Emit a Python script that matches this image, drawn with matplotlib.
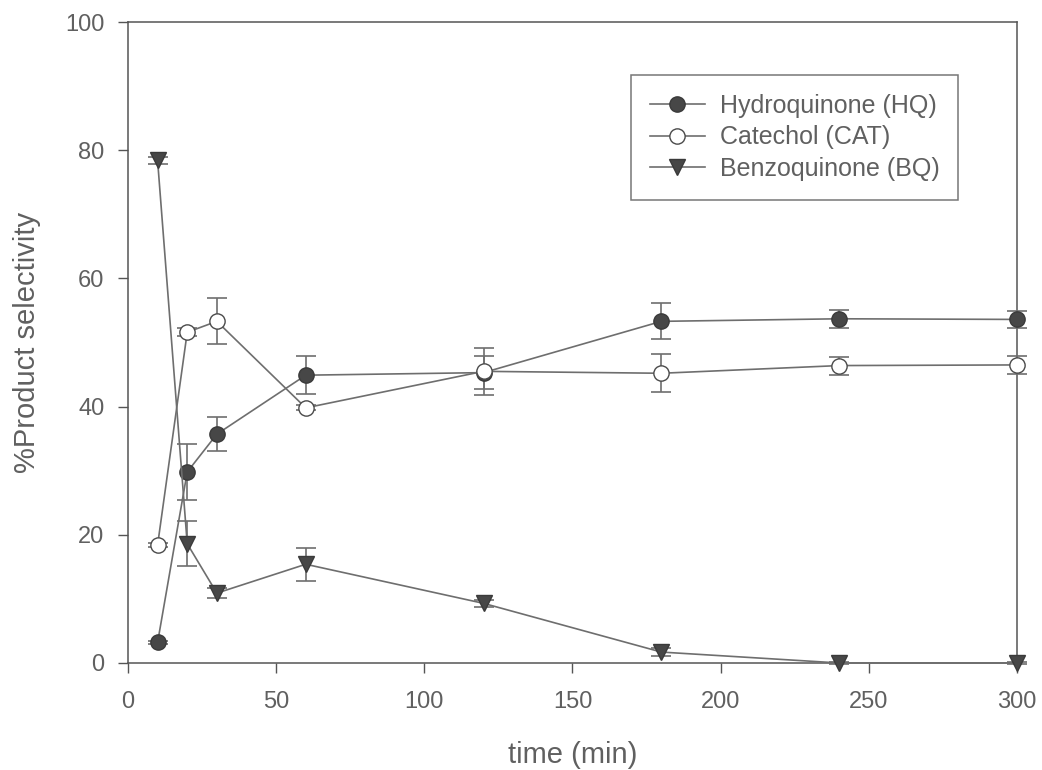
import matplotlib
matplotlib.use("Agg")
import matplotlib.pyplot as plt
from matplotlib.lines import Line2D

plt.rcParams['font.family'] = ['Liberation Sans', 'DejaVu Sans']

time = [10, 20, 30, 60, 120, 180, 240, 300]
hq = [3.2, 29.8, 35.7, 44.9, 45.3, 53.3, 53.7, 53.6]
hq_err = [0.3, 4.4, 2.7, 3.0, 2.6, 2.8, 1.4, 1.3]
cat = [18.4, 51.6, 53.3, 39.8, 45.5, 45.2, 46.4, 46.5]
cat_err = [0.3, 0.6, 3.6, 0.4, 3.7, 3.0, 1.4, 1.4]
bq = [78.4, 18.6, 10.9, 15.4, 9.3, 1.7, 0.0, 0.0]
bq_err = [0.5, 3.5, 0.8, 2.6, 0.6, 0.6, 0.2, 0.2]

labels = ["Hydroquinone (HQ)", "Catechol (CAT)", "Benzoquinone (BQ)"]
xticks = [0, 50, 100, 150, 200, 250, 300]
yticks = [0, 20, 40, 60, 80, 100]

line_c = '#6e6e6e'
fill_c = '#474747'
txt_c = '#606060'

fig = plt.figure(figsize=(10.42, 7.70), dpi=100)
ax = fig.add_axes([0.1228, 0.139, 0.8532, 0.8324])

common = dict(color=line_c, lw=1.2, ecolor=line_c, elinewidth=1.2, capsize=7,
              capthick=1.2, clip_on=False, zorder=3)
styles = [
    dict(marker='o', ms=11, mfc=fill_c, mec='#3a3a3a'),
    dict(marker='o', ms=11, mfc='white', mec='#4a4a4a'),
    dict(marker='v', ms=11, mfc=fill_c, mec='#3a3a3a'),
]
for vals, errs, st in zip([hq, cat, bq], [hq_err, cat_err, bq_err], styles):
    ax.errorbar(time, vals, yerr=errs, **st, **common)

ax.set_xlim(0, 300)
ax.set_ylim(0, 100)
ax.set_xticks(xticks)
ax.set_yticks(yticks)
ax.tick_params(direction='out', length=7, width=1, colors='#555555',
               labelsize=17, labelcolor=txt_c)
ax.tick_params(axis='x', pad=13)
ax.tick_params(axis='y', pad=10)
for s in ax.spines.values():
    s.set_color('#555555')
    s.set_linewidth(1.1)

ax.set_xlabel("time (min)", fontsize=21, color=txt_c, labelpad=20)
ax.set_ylabel("%Product selectivity", fontsize=21, color=txt_c, labelpad=17)

handles = [Line2D([], [], color=line_c, lw=1.2, **st) for st in styles]
leg = ax.legend(handles, labels, loc='upper right', bbox_to_anchor=(0.934, 0.917),
                borderaxespad=0, fontsize=18, frameon=True, fancybox=False,
                edgecolor='#555555', handlelength=2.2, borderpad=0.75,
                labelspacing=0.3, handletextpad=0.6)
leg.get_frame().set_linewidth(1.1)
for t in leg.get_texts():
    t.set_color(txt_c)

fig.savefig("out.png", dpi=100)
